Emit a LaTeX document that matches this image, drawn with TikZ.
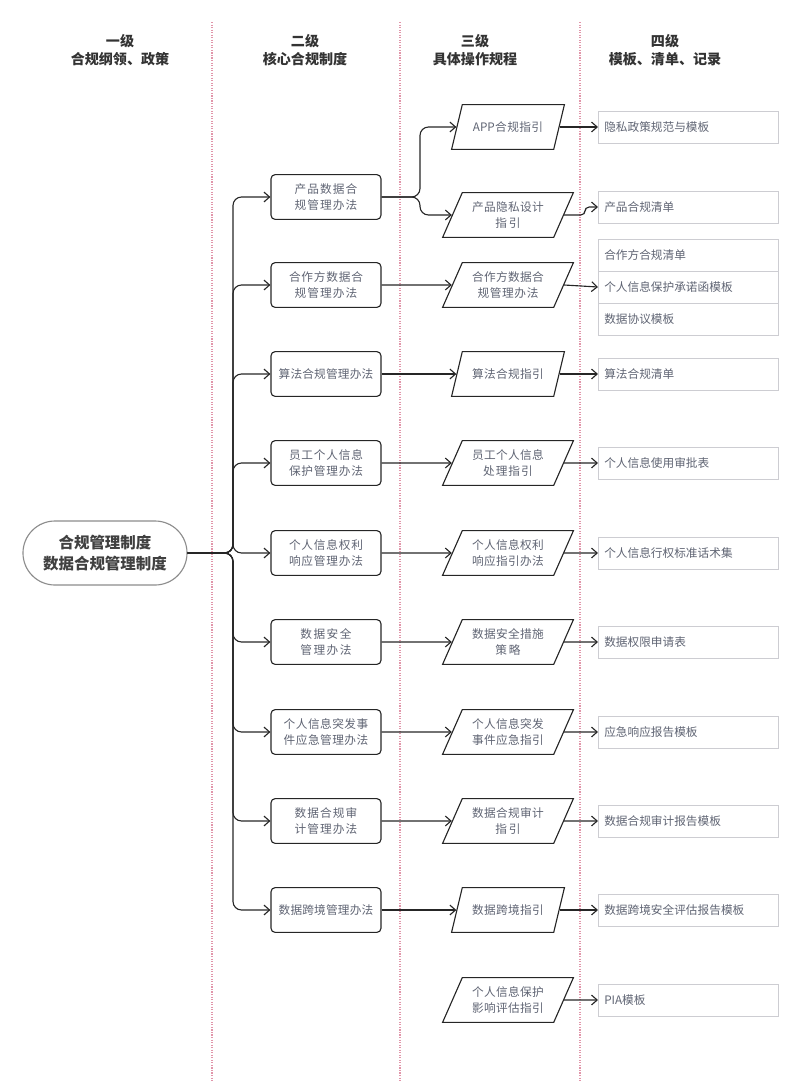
\documentclass[tikz,border=0pt]{standalone}
\usepackage{fontspec}
\setmainfont{Noto Sans CJK SC}
\XeTeXlinebreaklocale "zh"
\XeTeXlinebreakskip=0pt plus 1pt
\usetikzlibrary{shapes.geometric,arrows.meta}

\definecolor{txtgray}{RGB}{95,100,115}
\definecolor{boxgray}{RGB}{205,205,210}
\definecolor{sep}{RGB}{225,150,170}

\tikzset{
    head/.style={font=\bfseries\fontsize{10}{13}\selectfont, text=black!80, align=center},
    root/.style={draw=black!45, thick, rounded corners=0.8cm, minimum width=4.1cm, minimum height=1.6cm, align=center, font=\bfseries\fontsize{11}{15}\selectfont, text=black!75},
    lvltwo/.style={draw=black!85, thick, rounded corners=3pt, minimum width=2.75cm, minimum height=1.12cm, text width=2.5cm, align=center, font=\fontsize{8.3}{12}\selectfont, text=txtgray},
    lvlthree/.style={draw=black!85, thick, trapezium, trapezium left angle=62, trapezium right angle=118, trapezium stretches body, minimum width=2.7cm, minimum height=1.12cm, text width=2.05cm, align=center, font=\fontsize{8.3}{12}\selectfont, text=txtgray},
    lvlfour/.style={draw=boxgray, anchor=west, minimum width=4.5cm, minimum height=0.8cm, text width=4.2cm, align=left, font=\fontsize{8.3}{12}\selectfont, text=txtgray},
    arr/.style={thick, black!85, -{Straight Barb[length=4pt,width=7pt]}, rounded corners=6pt},
    divider/.style={sep, densely dotted, thick},
}

\begin{document}
\begin{tikzpicture}[x=0.025cm, y=-0.025cm]
    \useasboundingbox (0,0) rectangle (800,1088);

    % column dividers
    \foreach \xx in {212,400,580}
        \draw[divider] (\xx,22) -- (\xx,1082);

    % headers
    \node[head] (h1) at (120,50) {一级\\合规纲领、政策};
    \node[head] (h2) at (305,50) {二级\\核心合规制度};
    \node[head] (h3) at (475,50) {三级\\具体操作规程};
    \node[head] (h4) at (665,50) {四级\\模板、清单、记录};

    % root
    \node[root] (root) at (105,553) {合规管理制度\\数据合规管理制度};

    % level two
    \node[lvltwo] (b1) at (326,197) {产品数据合规管理办法};
    \node[lvltwo] (b2) at (326,285) {合作方数据合规管理办法};
    \node[lvltwo] (b3) at (326,374) {算法合规管理办法};
    \node[lvltwo] (b4) at (326,463) {员工个人信息保护管理办法};
    \node[lvltwo] (b5) at (326,553) {个人信息权利响应管理办法};
    \node[lvltwo] (b6) at (326,642) {数据安全\\管理办法};
    \node[lvltwo] (b7) at (326,732) {个人信息突发事件应急管理办法};
    \node[lvltwo] (b8) at (326,821) {数据合规审计管理办法};
    \node[lvltwo] (b9) at (326,910) {数据跨境管理办法};

    % level three
    \node[lvlthree] (p0) at (508,127) {APP合规指引};
    \node[lvlthree] (p1) at (508,215) {产品隐私设计\\指引};
    \node[lvlthree] (p2) at (508,285) {合作方数据合\\规管理办法};
    \node[lvlthree] (p3) at (508,374) {算法合规指引};
    \node[lvlthree] (p4) at (508,463) {员工个人信息\\处理指引};
    \node[lvlthree] (p5) at (508,553) {个人信息权利\\响应指引办法};
    \node[lvlthree] (p6) at (508,642) {数据安全措施\\策略};
    \node[lvlthree] (p7) at (508,732) {个人信息突发\\事件应急指引};
    \node[lvlthree] (p8) at (508,821) {数据合规审计\\指引};
    \node[lvlthree] (p9) at (508,910) {数据跨境指引};
    \node[lvlthree] (p10) at (508,1000) {个人信息保护\\影响评估指引};

    % level four
    \node[lvlfour] (r0) at (598,127) {隐私政策规范与模板};
    \node[lvlfour] (r1) at (598,207) {产品合规清单};
    \node[lvlfour] (r2a) at (598,255) {合作方合规清单};
    \node[lvlfour] (r2) at (598,287) {个人信息保护承诺函模板};
    \node[lvlfour] (r2b) at (598,319) {数据协议模板};
    \node[lvlfour] (r3) at (598,374) {算法合规清单};
    \node[lvlfour] (r4) at (598,463) {个人信息使用审批表};
    \node[lvlfour] (r5) at (598,553) {个人信息行权标准话术集};
    \node[lvlfour] (r6) at (598,642) {数据权限申请表};
    \node[lvlfour] (r7) at (598,732) {应急响应报告模板};
    \node[lvlfour] (r8) at (598,821) {数据合规审计报告模板};
    \node[lvlfour] (r9) at (598,910) {数据跨境安全评估报告模板};
    \node[lvlfour] (r10) at (598,1000) {PIA模板};

    % root to level two
    \foreach \b in {b1,b2,b3,b4,b5,b6,b7,b8,b9}
        \draw[arr] (root.east) -- (233,553) |- (\b.west);

    % level two to level three
    \draw[arr] (b1.east) -- (420,197) |- (p0.west);
    \draw[arr] (b1.east) -- (420,197) |- (p1.west);
    \foreach \i in {2,...,9}
        \draw[arr] (b\i.east) -- (p\i.west);

    % level three to level four
    \draw[arr, rounded corners=3pt] (p1.east) -- (585,215) |- (r1.west);
    \foreach \i in {0,2,3,4,5,6,7,8,9,10}
        \draw[arr] (p\i.east) -- (r\i.west);
\end{tikzpicture}
\end{document}
